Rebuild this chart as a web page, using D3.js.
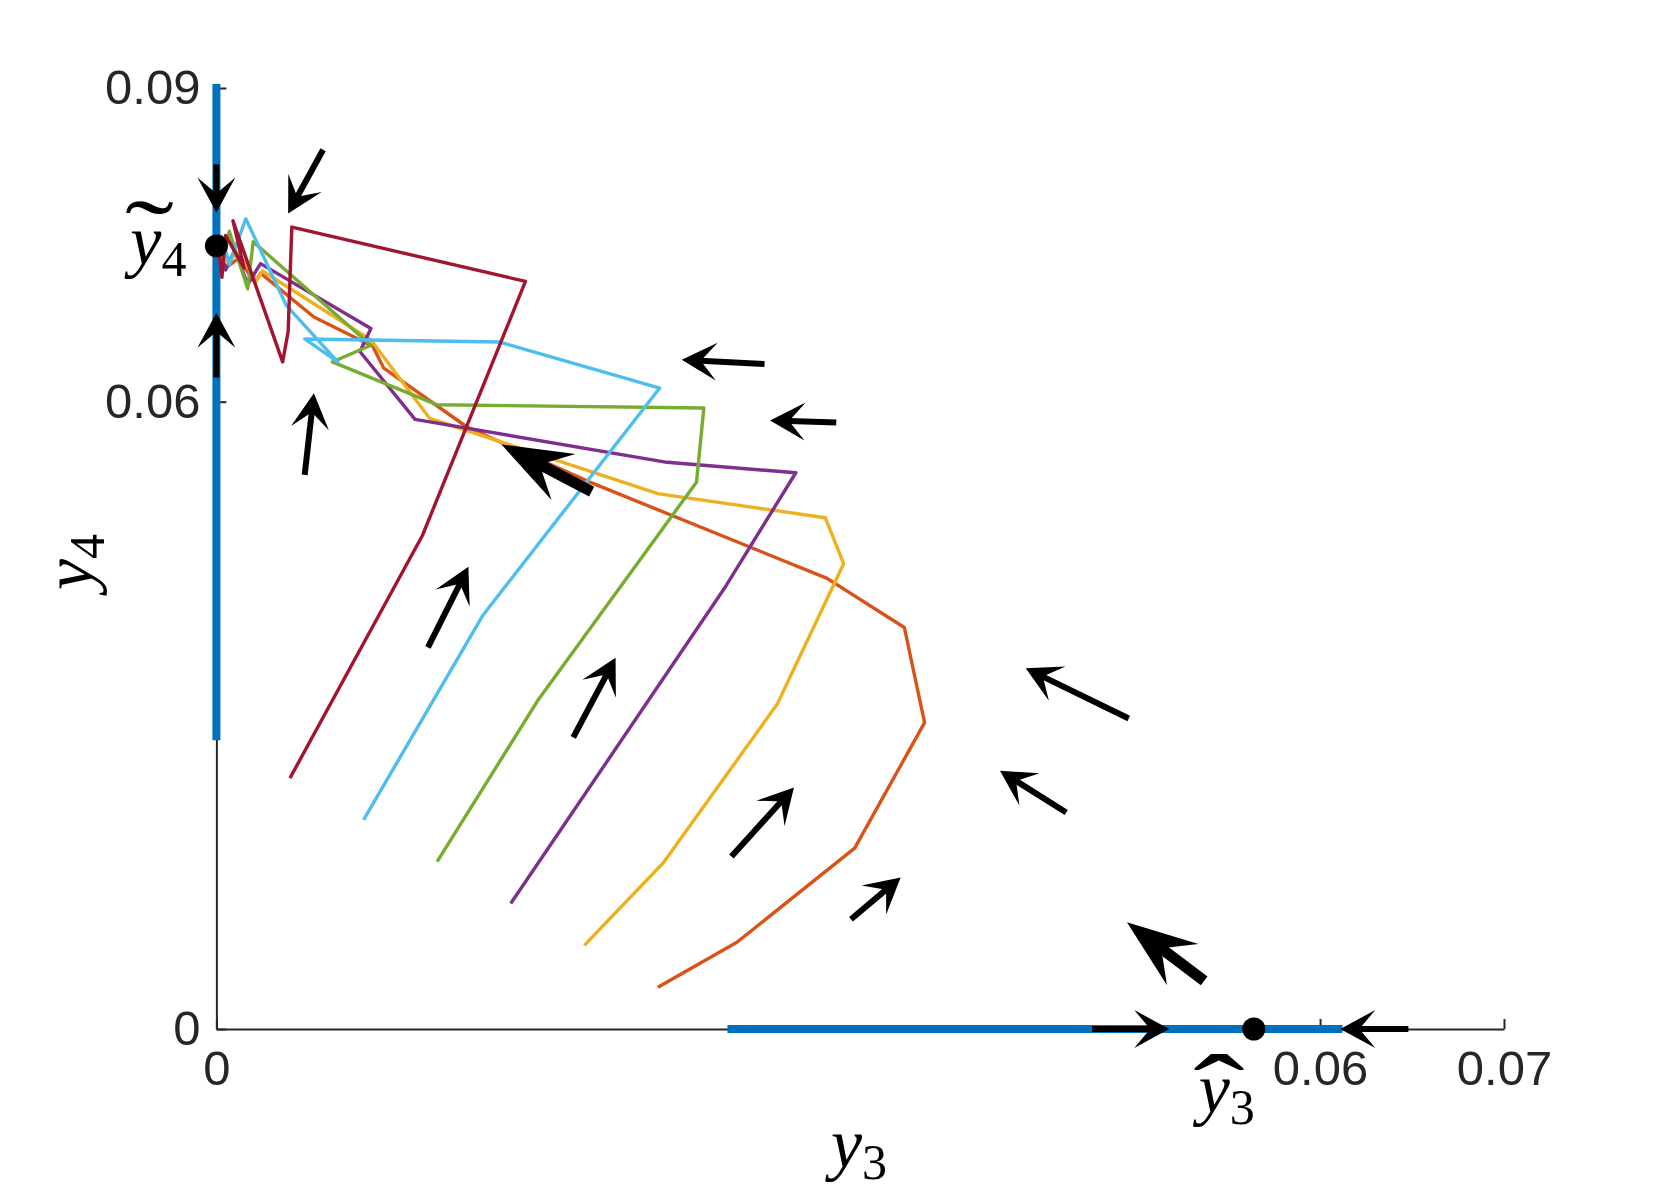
<!DOCTYPE html>
<html>
<head>
<meta charset="utf-8">
<script src="https://cdn.jsdelivr.net/npm/d3@7"></script>
<style>
  body { margin: 0; background: #fff; }
  svg { display: block; }
</style>
</head>
<body>
<svg id="chart" width="1663" height="1200"></svg>
<script>
// equilibria
var yTilde4 = 0.0749,
    yHat3 = 0.0564;

// ticks
var xTicks = [0, 0.06, 0.07],
    xTickLabels = ["0", "0.06", "0.07"];
var yTicks = [0, 0.06, 0.09],
    yTickLabels = ["0", "0.06", "0.09"];

// invariant pieces on the axes, [y3, y4]
var y4AxisPiece = [[0, 0.028], [0, 0.09]];
var y3AxisPiece = [[0.028, 0], [0.061, 0]];

// trajectories, [y3, y4] per step
var trajOrange = [[0.0240, 0.0040], [0.0283, 0.0083], [0.0347, 0.0173], [0.0385, 0.0293], [0.0374, 0.0384],
  [0.0332, 0.0431], [0.0203, 0.0523], [0.0136, 0.0576], [0.0091, 0.0632], [0.0085, 0.0653], [0.0053, 0.0681],
  [0.0024, 0.0723], [0.0021, 0.0714], [0.0012, 0.0737], [0.0005, 0.0728], [0.0001, 0.0749]];
var trajYellow = [[0.0200, 0.0080], [0.0243, 0.0159], [0.0305, 0.0311], [0.0341, 0.0445], [0.0331, 0.0489],
  [0.0240, 0.0512], [0.0116, 0.0584], [0.0084, 0.0659], [0.0025, 0.0725], [0.0022, 0.0716], [0.0012, 0.0742],
  [0.0005, 0.0734], [0.0001, 0.0749]];
var trajPurple = [[0.0160, 0.0120], [0.0276, 0.0421], [0.0315, 0.0532], [0.0245, 0.0542], [0.0108, 0.0583],
  [0.0078, 0.0648], [0.0084, 0.0670], [0.0024, 0.0732], [0.0017, 0.0712], [0.0010, 0.0745], [0.0005, 0.0726],
  [0.0001, 0.0749]];
var trajGreen = [[0.0120, 0.0160], [0.0175, 0.0315], [0.0261, 0.0523], [0.0265, 0.0594], [0.0120, 0.0597],
  [0.0063, 0.0638], [0.0084, 0.0654], [0.0020, 0.0753], [0.0017, 0.0708], [0.0007, 0.0763], [0.0003, 0.0731],
  [0.0001, 0.0749]];
var trajCyan = [[0.0080, 0.0200], [0.0145, 0.0396], [0.0241, 0.0613], [0.0154, 0.0657], [0.0048, 0.0660],
  [0.0066, 0.0638], [0.0038, 0.0692], [0.0016, 0.0775], [0.0007, 0.0731], [0.0003, 0.0758], [0.0001, 0.0749]];
var trajRed = [[0.0040, 0.0240], [0.0112, 0.0472], [0.0168, 0.0715], [0.0041, 0.0767], [0.0039, 0.0667],
  [0.0036, 0.0638], [0.0009, 0.0773], [0.0015, 0.0728], [0.0005, 0.0759], [0.0003, 0.0719], [0.0001, 0.0749]];

// direction field arrows, [y3 tail, y4 tail, y3 tip, y4 tip]
var arrows = [
  [0, 0.0827, 0, 0.0781],
  [0, 0.0623, 0, 0.0685],
  [0.0058, 0.0841, 0.0039, 0.0780],
  [0.0048, 0.0530, 0.0053, 0.0608],
  [0.0298, 0.0636, 0.0253, 0.0640],
  [0.0337, 0.0580, 0.0301, 0.0582],
  [0.0115, 0.0365, 0.0137, 0.0442],
  [0.0194, 0.0279, 0.0217, 0.0355],
  [0.0496, 0.0297, 0.0440, 0.0345],
  [0.0462, 0.0207, 0.0426, 0.0247],
  [0.0280, 0.0165, 0.0314, 0.0231],
  [0.0345, 0.0105, 0.0372, 0.0145],
  [0.0476, 0, 0.0518, 0],
  [0.0648, 0, 0.0611, 0]
];
var bigArrows = [
  [0.0204, 0.0514, 0.0155, 0.0559],
  [0.0537, 0.0046, 0.0495, 0.0102]
];

(function () {
  var svg = d3.select("#chart");
  var axisColor = "#262626";

  var x = d3.scaleLinear().domain([0, 0.07]).range([216.4, 1504]),
      y = d3.scaleLinear().domain([0, 0.09]).range([1029, 88]);

  svg.append("rect").attr("width", 1663).attr("height", 1200).attr("fill", "#fff");

  // axes (matlab style, ticks inside, no box)
  let xAxis = d3.axisBottom(x)
    .tickValues(xTicks)
    .tickFormat(function (d, i) { return xTickLabels[i]; })
    .tickSizeInner(-10)
    .tickSizeOuter(0)
    .tickPadding(21);

  let yAxis = d3.axisLeft(y)
    .tickValues(yTicks)
    .tickFormat(function (d, i) { return yTickLabels[i]; })
    .tickSizeInner(-10)
    .tickSizeOuter(0)
    .tickPadding(16);

  let gx = svg.append("g").attr("transform", `translate(0,${y(0)})`).call(xAxis);
  let gy = svg.append("g").attr("transform", `translate(${x(0)},0)`).call(yAxis);

  [gx, gy].forEach(function (g) {
    g.attr("font-family", "'Liberation Sans', Arial, sans-serif").attr("font-size", 49);
    g.select(".domain").attr("stroke", axisColor).attr("stroke-width", 2);
    g.selectAll(".tick line").attr("stroke", axisColor).attr("stroke-width", 2);
    g.selectAll(".tick text").attr("fill", axisColor);
  });

  let line = d3.line()
    .x(function (d) { return x(d[0]); })
    .y(function (d) { return y(d[1]); });

  // blue invariant sets on the axes
  svg.selectAll("path.inv")
    .data([y4AxisPiece, y3AxisPiece])
    .enter().append("path")
      .attr("class", "inv")
      .attr("d", line)
      .attr("fill", "none")
      .attr("stroke", "#0072BD")
      .attr("stroke-width", 8)
      .attr("stroke-linecap", "square");

  // trajectories in matlab plot order
  let trajs = [
    { pts: trajOrange, c: "#D95319" },
    { pts: trajYellow, c: "#EDB120" },
    { pts: trajPurple, c: "#7E2F8E" },
    { pts: trajGreen, c: "#77AC30" },
    { pts: trajCyan, c: "#4DBEEE" },
    { pts: trajRed, c: "#A2142F" }
  ];

  svg.append("g")
    .selectAll("path")
    .data(trajs)
    .enter().append("path")
      .attr("d", function (d) { return line(d.pts); })
      .attr("fill", "none")
      .attr("stroke", function (d) { return d.c; })
      .attr("stroke-width", 3.4)
      .attr("stroke-linejoin", "round");

  // arrows
  function arrowShape(a, L, W, N) {
    let x0 = x(a[0]), y0 = y(a[1]), x1 = x(a[2]), y1 = y(a[3]);
    let len = Math.hypot(x1 - x0, y1 - y0),
        ux = (x1 - x0) / len, uy = (y1 - y0) / len,
        px = -uy, py = ux;
    return {
      shaft: [[x0, y0], [x1 - ux * N, y1 - uy * N]],
      head: [
        [x1, y1],
        [x1 - ux * L + px * W, y1 - uy * L + py * W],
        [x1 - ux * N, y1 - uy * N],
        [x1 - ux * L - px * W, y1 - uy * L - py * W]
      ]
    };
  }

  function drawArrows(list, L, W, N, S) {
    let g = svg.append("g");
    list.forEach(function (a) {
      let s = arrowShape(a, L, W, N);
      g.append("line")
        .attr("x1", s.shaft[0][0]).attr("y1", s.shaft[0][1])
        .attr("x2", s.shaft[1][0]).attr("y2", s.shaft[1][1])
        .attr("stroke", "#000")
        .attr("stroke-width", S);
      g.append("path")
        .attr("d", "M" + s.head.join("L") + "Z")
        .attr("fill", "#000");
    });
  }

  drawArrows(arrows, 35, 19, 19, 6);
  drawArrows(bigArrows, 70, 26, 43, 11);

  // equilibrium dots
  svg.selectAll("circle.eq")
    .data([[0, yTilde4], [yHat3, 0]])
    .enter().append("circle")
      .attr("class", "eq")
      .attr("cx", function (d) { return x(d[0]); })
      .attr("cy", function (d) { return y(d[1]); })
      .attr("r", 11.5)
      .attr("fill", "#000");

  // math labels
  let serif = "'Liberation Serif', 'Times New Roman', serif";

  function mathLabel(g, sub) {
    let t = g.append("text")
      .attr("font-family", serif)
      .attr("fill", "#000")
      .attr("text-anchor", "middle");
    t.append("tspan").attr("font-style", "italic").attr("font-size", 70).text("y");
    t.append("tspan").attr("font-size", 50).attr("dy", 12).text(sub);
    return t;
  }

  // y~4 label beside its dot
  let tx = x(0) - 58, ty = y(yTilde4) + 18;
  let gt = svg.append("g").attr("transform", `translate(${tx},${ty})`);
  mathLabel(gt, "4");
  gt.append("text")
    .attr("font-family", serif)
    .attr("font-size", 70)
    .attr("text-anchor", "middle")
    .attr("transform", "translate(-9,3) scale(2.1,1.4)")
    .text("\u02DC");

  // y^3 label under its dot
  let hx = x(yHat3) - 27, hy = y(0) + 83;
  let gh = svg.append("g").attr("transform", `translate(${hx},${hy})`);
  mathLabel(gh, "3");
  gh.append("text")
    .attr("font-family", serif)
    .attr("font-size", 70)
    .attr("text-anchor", "middle")
    .attr("transform", "translate(-8,16) scale(2.2,1.5)")
    .text("\u02C6");

  // axis labels
  let gxl = svg.append("g").attr("transform", "translate(859,1167)");
  mathLabel(gxl, "3");

  let gyl = svg.append("g").attr("transform", "translate(92,562) rotate(-90)");
  mathLabel(gyl, "4");
})();
</script>
</body>
</html>
